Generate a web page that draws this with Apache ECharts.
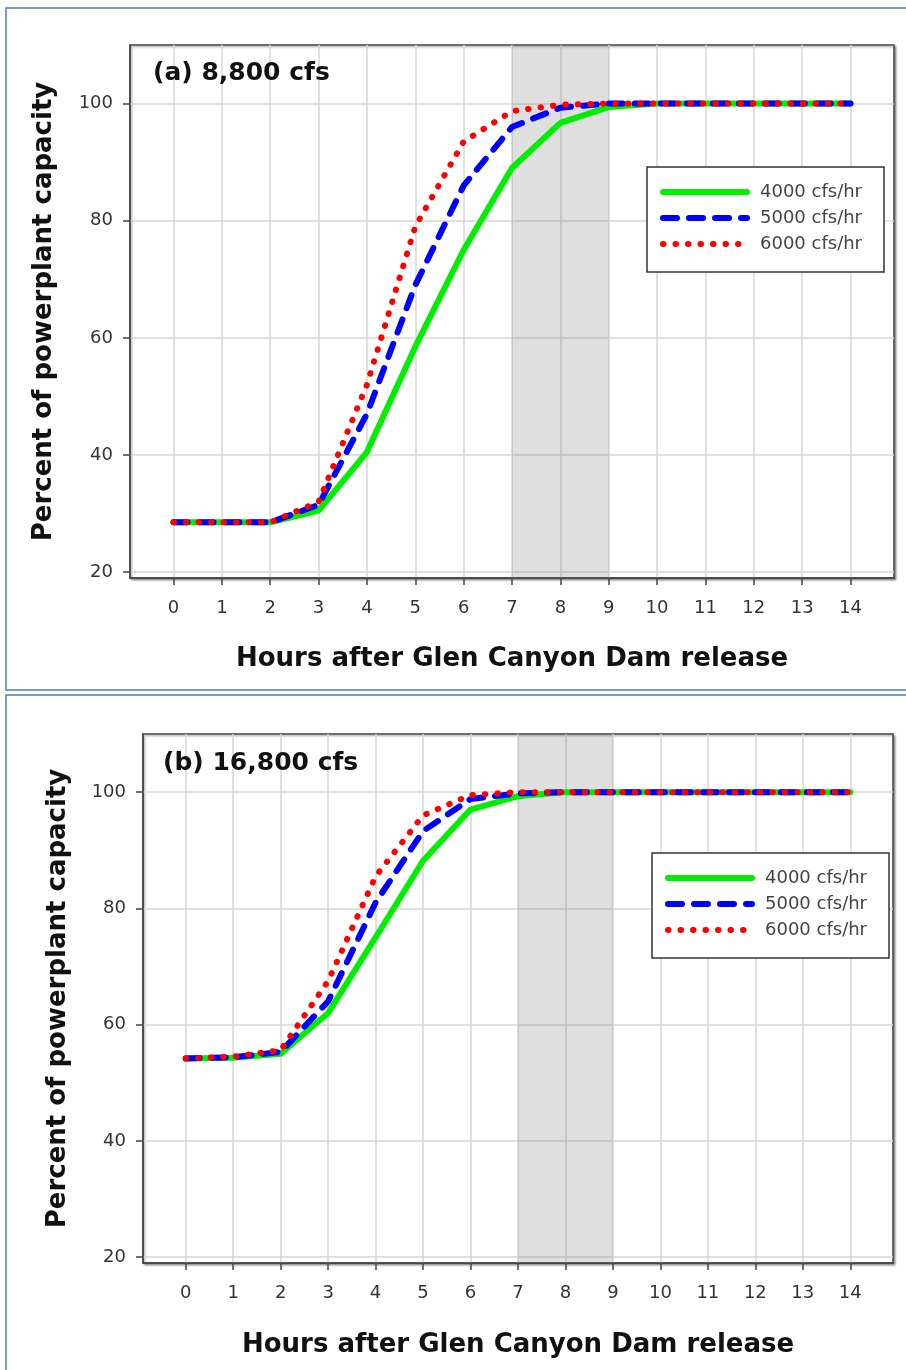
<!DOCTYPE html>
<html>
<head>
<meta charset="utf-8">
<script src="https://cdn.jsdelivr.net/npm/echarts@6/dist/echarts.min.js"></script>
<style>
html,body{margin:0;padding:0;background:#fff;}
#chart{width:906px;height:1370px;}
</style>
</head>
<body>
<div id="chart"></div>
<script>
// ---- data ----
const hours = [0,1,2,3,4,5,6,7,8,9,10,11,12,13,14];
const xTickValues = [0,1,2,3,4,5,6,7,8,9,10,11,12,13,14];
const yTickValues = [20,40,60,80,100];
const seriesNames = ['4000 cfs/hr','5000 cfs/hr','6000 cfs/hr'];
const panelTitles = ['(a) 8,800 cfs','(b) 16,800 cfs'];
const xAxisTitle = 'Hours after Glen Canyon Dam release';
const yAxisTitle = 'Percent of powerplant capacity';
const shadedHours = [7, 9];

// panel (a) 8,800 cfs
const ramp4000a = [28.5,28.5,28.5,30.5,40.5,58.5,75.0,89.0,96.7,99.4,100,100,100,100,100];
const ramp5000a = [28.5,28.5,28.5,31.5,47.0,69.0,86.0,96.0,99.3,100,100,100,100,100,100];
const ramp6000a = [28.5,28.5,28.5,32.0,52.0,79.0,93.5,98.7,99.8,100,100,100,100,100,100];
// panel (b) 16,800 cfs
const ramp4000b = [54.2,54.3,55.0,62.0,75.0,88.2,97.0,99.3,100,100,100,100,100,100,100];
const ramp5000b = [54.2,54.4,55.3,64.0,81.0,93.3,98.8,99.8,100,100,100,100,100,100,100];
const ramp6000b = [54.2,54.5,55.6,67.5,85.5,96.0,99.5,100,100,100,100,100,100,100,100];

const panelData = [
  [ramp4000a, ramp5000a, ramp6000a],
  [ramp4000b, ramp5000b, ramp6000b]
];

// ---- styles ----
const lineStyles = [
  {color:'#00ee00', width:6, type:'solid', cap:'round'},
  {color:'#0000ff', width:6, type:[14,12], cap:'round'},
  {color:'#ff0000', width:6, type:[0.5,12], cap:'round'}
];
const FONT = 'DejaVu Sans';

const layout = [
  {grid:{left:130, top:45, width:764, height:533}, legend:{left:647, top:167}, yGap:73, xGap:68, title:{x:153, y:73}},
  {grid:{left:143, top:734, width:750, height:529}, legend:{left:652, top:853}, yGap:72, xGap:69, title:{x:163, y:763}}
];

const grids = [], xAxes = [], yAxes = [], series = [], legends = [], graphics = [];

layout.forEach((L, p) => {
  grids.push(Object.assign({
    show:true, backgroundColor:'#fff', borderColor:'#444', borderWidth:1.5,
    shadowColor:'rgba(0,0,0,0.35)', shadowBlur:2, shadowOffsetX:1.5, shadowOffsetY:1.5
  }, L.grid));
  xAxes.push({
    type:'value', gridIndex:p, min:-0.9, max:14.9, splitNumber:16,
    axisLine:{show:true, onZero:false, lineStyle:{color:'#444', width:1.5}},
    axisTick:{show:true, length:7, customValues:xTickValues, lineStyle:{color:'#444', width:1.5}},
    axisLabel:{customValues:xTickValues, margin:21, color:'#333', fontFamily:FONT, fontSize:18},
    splitLine:{show:true, lineStyle:{color:'#d6d6d6', width:1.5}},
    name:xAxisTitle, nameLocation:'middle', nameGap:L.xGap,
    nameTextStyle:{fontFamily:FONT, fontWeight:'bold', fontSize:26, color:'#111'}
  });
  yAxes.push({
    type:'value', gridIndex:p, min:19, max:110,
    axisLine:{show:true, onZero:false, lineStyle:{color:'#444', width:1.5}},
    axisTick:{show:true, length:7, customValues:yTickValues, lineStyle:{color:'#444', width:1.5}},
    axisLabel:{customValues:yTickValues, margin:17, color:'#333', fontFamily:FONT, fontSize:18},
    splitLine:{show:true, lineStyle:{color:'#d6d6d6', width:1.5}},
    name:yAxisTitle, nameLocation:'middle', nameGap:L.yGap,
    nameTextStyle:{fontFamily:FONT, fontWeight:'bold', fontSize:26, color:'#111'}
  });
  panelData[p].forEach((vals, s) => {
    const ser = {
      type:'line', name:seriesNames[s], xAxisIndex:p, yAxisIndex:p,
      data:hours.map((h, i) => [h, vals[i]]),
      showSymbol:false, symbol:'none',
      lineStyle:lineStyles[s], itemStyle:{color:lineStyles[s].color},
      z:3 + s, animation:false, silent:true
    };
    if (s === 0) {
      ser.markArea = {
        silent:true,
        itemStyle:{color:'rgba(110,110,110,0.22)'},
        label:{show:false},
        data:[[{xAxis:shadedHours[0]},{xAxis:shadedHours[1]}]]
      };
    }
    series.push(ser);
  });
  legends.push({
    show:true, orient:'vertical', left:L.legend.left, top:L.legend.top,
    data:seriesNames, itemWidth:84, itemHeight:14, itemGap:6,
    padding:[15,22,18,13], backgroundColor:'#fff', borderColor:'#333', borderWidth:1.5,
    textStyle:{fontFamily:FONT, fontSize:18, color:'#444', lineHeight:20, padding:[0,0,0,8]},
    lineStyle:{width:6}, itemStyle:{opacity:0}, selectedMode:false
  });
  graphics.push({
    type:'text', x:L.title.x, y:L.title.y, z:100,
    style:{text:panelTitles[p], font:'bold 25px "DejaVu Sans"', fill:'#111', verticalAlign:'middle', textVerticalAlign:'middle'}
  });
});

// panel borders
graphics.push({type:'rect', shape:{x:6, y:8, width:920, height:682}, style:{fill:'none', stroke:'#4a7ebb', lineWidth:1.5}, z:0, silent:true});
graphics.push({type:'rect', shape:{x:6, y:695, width:920, height:700}, style:{fill:'none', stroke:'#4a7ebb', lineWidth:1.5}, z:0, silent:true});

const chart = echarts.init(document.getElementById('chart'), null, {renderer:'canvas'});
chart.setOption({
  animation:false,
  backgroundColor:'#fff',
  grid:grids, xAxis:xAxes, yAxis:yAxes, series:series, legend:legends,
  graphic:graphics
});
</script>
</body>
</html>
